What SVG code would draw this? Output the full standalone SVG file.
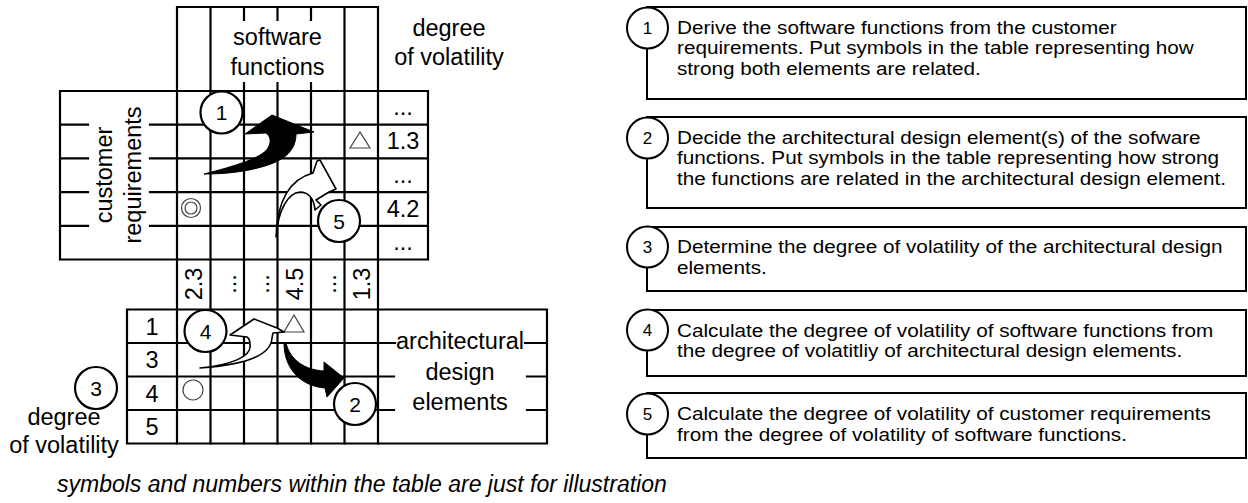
<svg xmlns="http://www.w3.org/2000/svg" width="1248" height="503" viewBox="0 0 1248 503">
<style>
.ln{stroke:#000;stroke-width:2.2;fill:none;stroke-linecap:square}
.t{font-family:"Liberation Sans",Arial,Helvetica,sans-serif;fill:#000}
.lbl{font-size:23.5px}
.m{text-anchor:middle}
.cn{font-size:21px}
.bt{font-size:18.5px}
.bn{font-size:17px}
.circ{fill:#fff;stroke:#000;stroke-width:2.2}
.bcirc{fill:#fff;stroke:#000;stroke-width:2}
.box{fill:#fff;stroke:#000;stroke-width:2}
.sym{fill:none;stroke:#444;stroke-width:1.2}
.blk{fill:#000;stroke:#000;stroke-width:1}
.wht{fill:#fff;stroke:#000;stroke-width:1.6;stroke-linejoin:round}
</style>

<g id="table-grid">
<path class="ln" d="M177,7 H378 M177,7 V443.5 M210.5,7 V443.5 M244,7 V20 M244,83 V443.5 M277.5,7 V20 M277.5,83 V443.5 M311,7 V20 M311,83 V443.5 M344.5,7 V443.5 M378,7 V443.5"/>
<path class="ln" d="M60,91 H428 M60,124.7 H88 M150,124.7 H428 M60,158.4 H88 M150,158.4 H428 M60,192.1 H88 M150,192.1 H428 M60,225.8 H88 M150,225.8 H428 M60,259.5 H428 M60,91 V259.5 M428,91 V259.5"/>
<path class="ln" d="M127,309.5 H547 M127,343 H395 M525,343 H547 M127,376.5 H394 M527,376.5 H547 M127,410 H394 M527,410 H547 M127,443.5 H547 M127,309.5 V443.5 M547,309.5 V443.5"/>
</g>

<g id="software-functions" class="t lbl m">
<text x="277.5" y="45">software</text>
<text x="277.5" y="75">functions</text>
</g>
<g id="degree-volatility-top" class="t lbl m">
<text x="449" y="36">degree</text>
<text x="449" y="65">of volatility</text>
</g>
<g id="customer-requirements" class="t lbl m">
<text transform="translate(111.5,175) rotate(-90)">customer</text>
<text transform="translate(141,175) rotate(-90)">requirements</text>
</g>
<g id="volatility-column" class="t lbl m">
<text x="403" y="115.4">...</text>
<text x="403" y="149">1.3</text>
<text x="403" y="182.8">...</text>
<text x="403" y="216.5">4.2</text>
<text x="403" y="250.2">...</text>
</g>
<g id="function-volatility-row" class="t lbl m">
<text transform="translate(202,284) rotate(-90)">2.3</text>
<text transform="translate(235.5,284) rotate(-90)">...</text>
<text transform="translate(269,284) rotate(-90)">...</text>
<text transform="translate(302.5,284) rotate(-90)">4.5</text>
<text transform="translate(336,284) rotate(-90)">...</text>
<text transform="translate(369.5,284) rotate(-90)">1.3</text>
</g>
<g id="architecture-volatility" class="t lbl m">
<text x="152" y="334.5">1</text>
<text x="152" y="368">3</text>
<text x="152" y="401.5">4</text>
<text x="152" y="435">5</text>
</g>
<g id="architectural-design-elements" class="t lbl m">
<text x="460" y="349">architectural</text>
<text x="460" y="379.5">design</text>
<text x="460" y="410">elements</text>
</g>
<g id="degree-volatility-bottom" class="t lbl m">
<text x="64" y="425">degree</text>
<text x="64" y="453">of volatility</text>
</g>

<g id="symbols">
<circle class="sym" cx="191" cy="208" r="9.5"/>
<circle class="sym" cx="191" cy="208" r="6"/>
<circle class="sym" cx="193" cy="390" r="10"/>
<path class="sym" d="M360,132 L350,148 L370,148 Z"/>
<path class="sym" d="M294,315 L284,332 L304,332 Z"/>
</g>

<g id="connectors">
<path class="blk" d="M204,174 C235,166 262,158 268,148 C272,141 270,136 266,133 L245,134 L272,115 L304,128 L314,132 L296,134 C296,150 285,160 265,166 C245,172 225,174 204,174 Z"/>
<path class="blk" d="M284,343 C284,368 300,386 325,388 L327,397 L344,378 L324,362 L324,371 C305,370 290,360 286,343 Z"/>
<path class="wht" d="M276,237 C277,205 287,180 313,173 L317,161 L320,160 L336,189 L329,192 L316,200 L321,205 L315,210 C314,198 308,192 300,192 C288,193 278,210 276,237 Z"/>
<path class="wht" d="M200,368 C230,365 252,357 250,345 C250,340 249,338 247,337 L230,335 L254,319 L277,328 L284,332 L273,333 L272,338 C271,355 245,365 200,368 Z"/>
</g>

<g id="step-1-marker"><circle class="circ" cx="221.5" cy="112.5" r="21"/><text class="t cn m" x="221.5" y="120">1</text></g>
<g id="step-5-marker"><circle class="circ" cx="339" cy="221" r="21"/><text class="t cn m" x="339" y="228.5">5</text></g>
<g id="step-4-marker"><circle class="circ" cx="205.5" cy="331" r="21"/><text class="t cn m" x="205.5" y="338.5">4</text></g>
<g id="step-2-marker"><circle class="circ" cx="355" cy="404" r="21"/><text class="t cn m" x="355" y="411.5">2</text></g>
<g id="step-3-marker"><circle class="circ" cx="96" cy="388" r="21"/><text class="t cn m" x="96" y="395.5">3</text></g>

<g id="step-1-box">
<rect class="box" x="647" y="7" width="599" height="92"/>
<circle class="bcirc" cx="647.5" cy="28" r="20.5"/><text class="t bn m" x="647.5" y="34">1</text>
<g class="t bt" transform="translate(677,0) scale(1.12,1)">
<text x="0" y="34">Derive the software functions from the customer</text>
<text x="0" y="54.5">requirements. Put symbols in the table representing how</text>
<text x="0" y="75">strong both elements are related.</text>
</g>
</g>
<g id="step-2-box">
<rect class="box" x="647" y="117" width="599" height="91"/>
<circle class="bcirc" cx="647.5" cy="138" r="20.5"/><text class="t bn m" x="647.5" y="144">2</text>
<g class="t bt" transform="translate(677,0) scale(1.12,1)">
<text x="0" y="144">Decide the architectural design element(s) of the sofware</text>
<text x="0" y="164.5">functions. Put symbols in the table representing how strong</text>
<text x="0" y="185">the functions are related in the architectural design element.</text>
</g>
</g>
<g id="step-3-box">
<rect class="box" x="647" y="227" width="599" height="64"/>
<circle class="bcirc" cx="647.5" cy="247" r="20.5"/><text class="t bn m" x="647.5" y="253">3</text>
<g class="t bt" transform="translate(677,0) scale(1.12,1)">
<text x="0" y="253.5">Determine the degree of volatility of the architectural design</text>
<text x="0" y="274">elements.</text>
</g>
</g>
<g id="step-4-box">
<rect class="box" x="647" y="310" width="599" height="66"/>
<circle class="bcirc" cx="647.5" cy="330" r="20.5"/><text class="t bn m" x="647.5" y="336">4</text>
<g class="t bt" transform="translate(677,0) scale(1.12,1)">
<text x="0" y="337">Calculate the degree of volatility of software functions from</text>
<text x="0" y="357.5">the degree of volatitliy of architectural design elements.</text>
</g>
</g>
<g id="step-5-box">
<rect class="box" x="647" y="393" width="599" height="65"/>
<circle class="bcirc" cx="647.5" cy="414" r="20.5"/><text class="t bn m" x="647.5" y="420">5</text>
<g class="t bt" transform="translate(677,0) scale(1.12,1)">
<text x="0" y="420.5">Calculate the degree of volatility of customer requirements</text>
<text x="0" y="441">from the degree of volatility of software functions.</text>
</g>
</g>

<g id="footnote">
<text class="t" x="57" y="492" font-size="23px" font-style="italic">symbols and numbers within the table are just for illustration</text>
</g>
</svg>
